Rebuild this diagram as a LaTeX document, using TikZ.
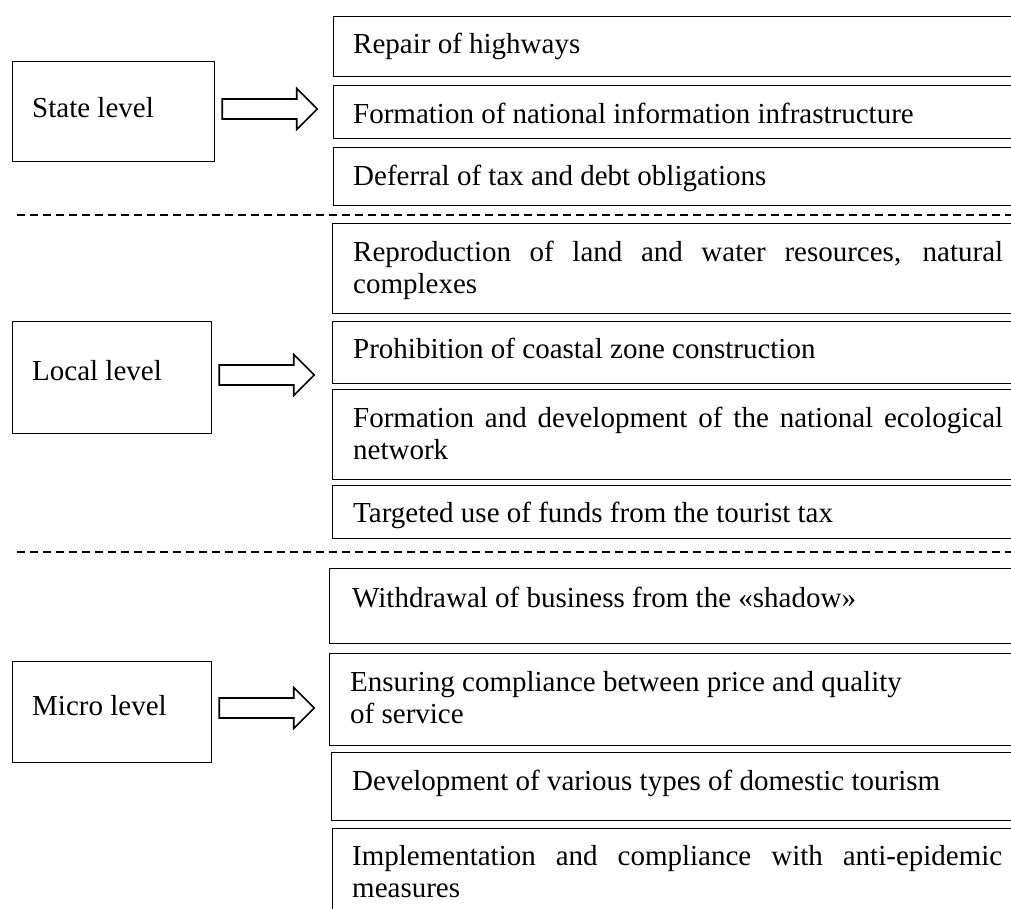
\documentclass[tikz,border=0pt]{standalone}
\usepackage{fontspec}
\setmainfont{Liberation Serif}
\begin{document}
\begin{tikzpicture}[x=1pt,y=-1pt,
  lbox/.style={draw=black, line width=1.2pt, rectangle, inner sep=0pt, anchor=north west},
  rbox/.style={draw=black, line width=1.2pt, rectangle, inner sep=0pt, anchor=north west, minimum width=700pt},
  txt/.style={anchor=base west, inner sep=0pt, font=\fontsize{29}{31.5}\selectfont, align=left},
  arrowline/.style={draw=black, line width=1.6pt, line join=miter},
  sepline/.style={draw=black, line width=1.4pt, dash pattern=on 8pt off 5pt}]
\useasboundingbox (0,0) rectangle (1011,908);
\clip (0,0) rectangle (1011,908);

% left level boxes
\node[lbox, minimum width=202pt, minimum height=100pt] (state) at (12,61) {};
\node[txt] (statet) at (32,117) {State level};
\node[lbox, minimum width=199pt, minimum height=112pt] (local) at (12,321) {};
\node[txt] (localt) at (32,380) {Local level};
\node[lbox, minimum width=199pt, minimum height=101pt] (micro) at (12,661) {};
\node[txt] (microt) at (32,715) {Micro level};

% block arrows
\newcommand\blockarrow[1]{%
  \draw[arrowline] (#1) ++(0,-10) -- ++(74.5,0) -- ++(0,-10.5) -- ++(20.5,20.5)
    -- ++(-20.5,20.5) -- ++(0,-10.5) -- ++(-74.5,0) -- cycle;}
\coordinate (a1) at ([xshift=7pt]state.east |- 0,109);
\coordinate (a2) at ([xshift=7pt]local.east |- 0,375);
\coordinate (a3) at ([xshift=7pt]micro.east |- 0,708);
\blockarrow{a1}
\blockarrow{a2}
\blockarrow{a3}

% state level measures
\node[rbox, minimum height=60pt] (r1) at (333,16) {};
\node[txt] (t1) at (353,53) {Repair of highways};
\node[rbox, minimum height=53pt] (r2) at (333,85) {};
\node[txt] (t2) at (353,123) {Formation of national information infrastructure};
\node[rbox, minimum height=58pt] (r3) at (333,147) {};
\node[txt] (t3) at (353,185) {Deferral of tax and debt obligations};

\coordinate (d1a) at (17,215);
\coordinate (d1b) at (1011,215);
\draw[sepline] (d1a) -- (d1b);

% local level measures (anchor = baseline of the last line)
\node[rbox, minimum height=90pt] (r4) at (332,223) {};
\node[txt] (t4) at (353,293) {\makebox[650pt][s]{Reproduction of land and water resources, natural}\\complexes};
\node[rbox, minimum height=62pt] (r5) at (332,321) {};
\node[txt] (t5) at (353,358) {Prohibition of coastal zone construction};
\node[rbox, minimum height=90pt] (r6) at (332,389) {};
\node[txt] (t6) at (353,459) {\makebox[650pt][s]{Formation and development of the national ecological}\\network};
\node[rbox, minimum height=53pt] (r7) at (332,485) {};
\node[txt] (t7) at (353,522) {Targeted use of funds from the tourist tax};

\coordinate (d2a) at (17,552);
\coordinate (d2b) at (1011,552);
\draw[sepline] (d2a) -- (d2b);

% micro level measures
\node[rbox, minimum height=75pt] (r8) at (329,568) {};
\node[txt] (t8) at (352,607) {Withdrawal of business from the «shadow»};
\node[rbox, minimum height=92pt] (r9) at (329,653) {};
\node[txt] (t9) at (350,723) {Ensuring compliance between price and quality\\of service};
\node[rbox, minimum height=68pt] (r10) at (331,752) {};
\node[txt] (t10) at (352,790) {Development of various types of domestic tourism};
\node[rbox, minimum height=120pt] (r11) at (332,828) {};
\node[txt] (t11) at (352,897) {\makebox[650pt][s]{Implementation and compliance with anti-epidemic}\\measures};
\end{tikzpicture}
\end{document}
